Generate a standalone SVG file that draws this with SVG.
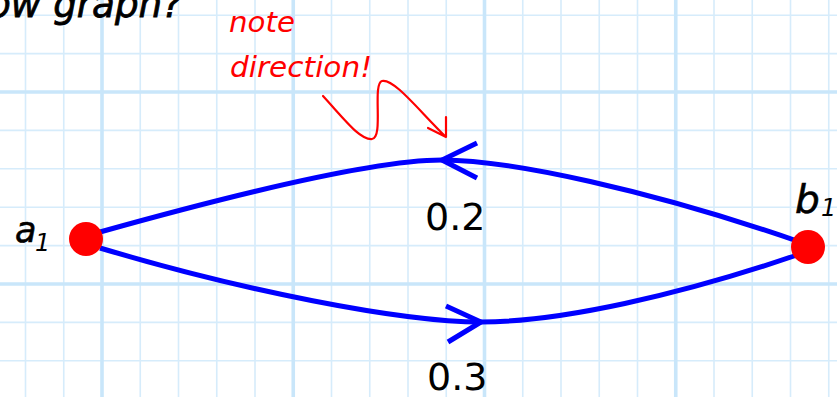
<svg xmlns="http://www.w3.org/2000/svg" width="837" height="397" viewBox="0 0 837 397">
<style>
.g{stroke:#d6ecfb;stroke-width:1.6;fill:none}
.G{stroke:#c9e6fa;stroke-width:3.6;fill:none}
.e{stroke:#0000ff;stroke-width:5;fill:none;stroke-linecap:butt}
.n{fill:#ff0000}
.lab{font-family:"DejaVu Sans",sans-serif;font-style:italic;fill:#000}
.num{font-family:"DejaVu Sans",sans-serif;font-size:38px;fill:#000}
.red{font-family:"DejaVu Sans",sans-serif;font-style:italic;font-size:29px;fill:#ff0000}
</style>
<rect width="837" height="397" fill="#fff"/>
<g id="grid">
<path class="g" d="M25.5,0V397M63.75,0V397M140.25,0V397M178.5,0V397M216.75,0V397M255,0V397M331.5,0V397M369.75,0V397M408,0V397M446.25,0V397M522.75,0V397M561,0V397M599.25,0V397M637.5,0V397M714,0V397M752.25,0V397M790.5,0V397M828.75,0V397"/>
<path class="g" d="M0,15.2H837M0,53.6H837M0,130.4H837M0,168.8H837M0,207.2H837M0,245.6H837M0,322.4H837M0,360.8H837"/>
<path class="G" d="M102,0V397M293.25,0V397M484.5,0V397M675.75,0V397M0,92H837M0,284H837"/>
</g>
<text id="title" class="lab" x="-12" y="17" font-size="38" stroke="#000" stroke-width="0.8" textLength="194" lengthAdjust="spacingAndGlyphs">ow graph?</text>
<g id="note">
<text class="red" x="229" y="32" textLength="66" lengthAdjust="spacingAndGlyphs">note</text>
<text class="red" x="230" y="77" textLength="142" lengthAdjust="spacingAndGlyphs">direction!</text>
<path d="M323,96 C345,120 360,140 372,139 C384,138 372,84 382,81 C394,78 420,112 446,137 M446,117 L446,137 L428,128" fill="none" stroke="#ff0000" stroke-width="2.2" stroke-linejoin="round" stroke-linecap="round"/>
</g>
<g id="connectors">
<path class="e" d="M100,232 C250,190 380,160 442,160 C510,160 650,190 800,242"/>
<path class="e" d="M477,143 L442,160 L477,178"/>
<path class="e" d="M100,248 C240,290 400,322 481,322 C560,322 680,295 797,255"/>
<path class="e" d="M446,306 L481,322 L448,342"/>
<text class="num" x="425" y="230">0.2</text>
<text class="num" x="427" y="390">0.3</text>
</g>
<g id="a1">
<circle class="n" cx="86" cy="239" r="17"/>
<text class="lab" x="15" y="242" font-size="35" stroke="#000" stroke-width="0.6">a</text>
<text class="lab" x="35" y="251" font-size="24">1</text>
</g>
<g id="b1">
<circle class="n" cx="808" cy="247" r="17"/>
<text class="lab" x="795" y="213" font-size="39" stroke="#000" stroke-width="0.6">b</text>
<text class="lab" x="821" y="216" font-size="24">1</text>
</g>
</svg>
